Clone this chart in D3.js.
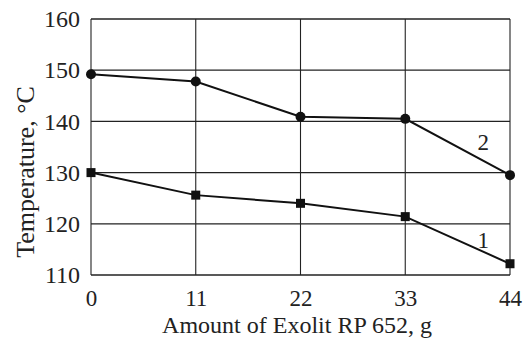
<!DOCTYPE html>
<html>
<head>
<meta charset="utf-8">
<script src="https://cdn.jsdelivr.net/npm/d3@7"></script>
<style>
  body { margin: 0; background: #fff; }
  text { font-family: "Liberation Serif", "DejaVu Serif", serif; fill: #222; }
</style>
</head>
<body>
<div id="chart"></div>
<script>
// values
const amounts = [0, 11, 22, 33, 44];
const series1 = [130, 125.6, 124.0, 121.4, 112.2];   // squares, curve 1
const series2 = [149.2, 147.8, 140.9, 140.5, 129.5]; // circles, curve 2
const yTicks = [110, 120, 130, 140, 150, 160];

const width = 525, height = 344;
const margin = { top: 19, right: 15, bottom: 69, left: 91 };

const svg = d3.select("#chart").append("svg")
  .attr("width", width)
  .attr("height", height);

const x = d3.scaleLinear().domain([0, 44]).range([margin.left, width - margin.right]);
const y = d3.scaleLinear().domain([110, 160]).range([height - margin.bottom, margin.top]);

// grid
svg.append("g")
  .selectAll("line")
  .data(yTicks)
  .enter().append("line")
  .attr("x1", x(0)).attr("x2", x(44))
  .attr("y1", d => y(d)).attr("y2", d => y(d))
  .attr("stroke", "#222").attr("stroke-width", 1.3);

svg.append("g")
  .selectAll("line")
  .data(amounts)
  .enter().append("line")
  .attr("x1", d => x(d)).attr("x2", d => x(d))
  .attr("y1", y(110)).attr("y2", y(160))
  .attr("stroke", "#222").attr("stroke-width", 1.1);

// axes (labels only, frame comes from grid)
const xAxis = svg.append("g")
  .attr("transform", "translate(0," + y(110) + ")")
  .call(d3.axisBottom(x).tickValues(amounts).tickSize(0).tickPadding(14));
xAxis.select(".domain").remove();
xAxis.selectAll("text").attr("font-size", 23).attr("dy", "0.72em");

const yAxis = svg.append("g")
  .attr("transform", "translate(" + x(0) + ",0)")
  .call(d3.axisLeft(y).tickValues(yTicks).tickSize(0).tickPadding(11));
yAxis.select(".domain").remove();
yAxis.selectAll("text").attr("font-size", 24);

// axis titles
svg.append("text")
  .attr("x", 297).attr("y", 333)
  .attr("text-anchor", "middle")
  .attr("font-size", 24)
  .text("Amount of Exolit RP 652, g");

svg.append("text")
  .attr("transform", "translate(34,172) rotate(-90)")
  .attr("text-anchor", "middle")
  .attr("font-size", 26)
  .text("Temperature, °C");

const line = d3.line()
  .x((d, i) => x(amounts[i]))
  .y(d => y(d));

// curve 2
svg.append("path")
  .datum(series2)
  .attr("d", line)
  .attr("fill", "none").attr("stroke", "#111").attr("stroke-width", 2);
svg.append("g")
  .selectAll("circle")
  .data(series2)
  .enter().append("circle")
  .attr("cx", (d, i) => x(amounts[i]))
  .attr("cy", d => y(d))
  .attr("r", 5)
  .attr("fill", "#111");

// curve 1
svg.append("path")
  .datum(series1)
  .attr("d", line)
  .attr("fill", "none").attr("stroke", "#111").attr("stroke-width", 2);
svg.append("g")
  .selectAll("rect")
  .data(series1)
  .enter().append("rect")
  .attr("x", (d, i) => x(amounts[i]) - 4.5)
  .attr("y", d => y(d) - 4.5)
  .attr("width", 9).attr("height", 9)
  .attr("fill", "#111");

// curve labels
svg.append("text")
  .attr("x", x(40.6)).attr("y", y(134.5))
  .attr("font-size", 23)
  .text("2");
svg.append("text")
  .attr("x", x(40.6)).attr("y", y(115.3))
  .attr("font-size", 23)
  .text("1");
</script>
</body>
</html>
